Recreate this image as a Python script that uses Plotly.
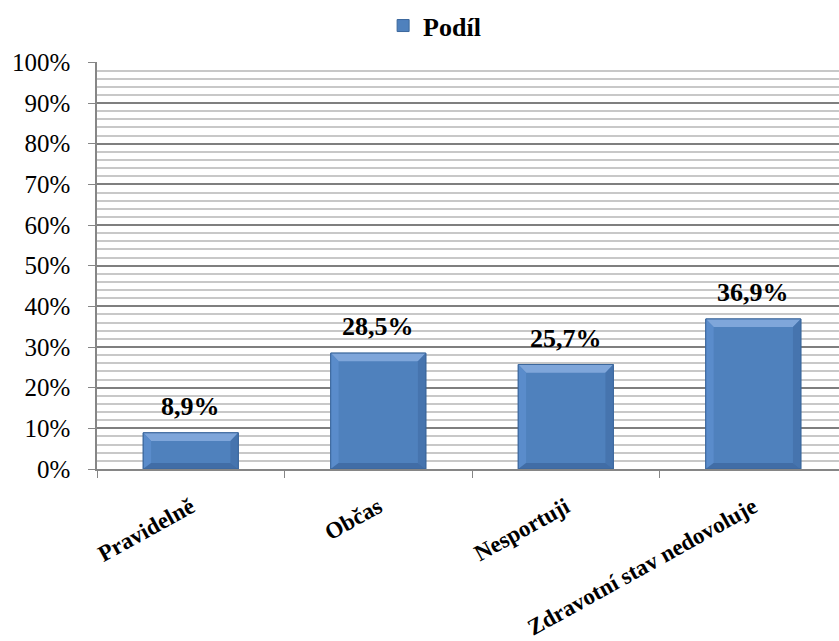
import plotly.graph_objects as go

categories = ["Pravidelně", "Občas", "Nesportuji", "Zdravotní stav nedovoluje"]
shares = [8.9, 28.5, 25.7, 36.9]
series_name = "Podíl"
y_ticks = list(range(0, 101, 10))
y_tick_labels = [f"{v}%" for v in y_ticks]

serif = "Liberation Serif, Times New Roman, serif"
bar_width = 0.507

fig = go.Figure()
fig.add_trace(go.Bar(
    x=categories,
    y=shares,
    name=f"<b>{series_name}</b>",
    width=bar_width,
    marker=dict(color="#4F81BD", line=dict(color="#3B679C", width=1)),
    showlegend=True,
))

# bevelled edges on each bar (sizes in axis units: ~8 px across, ~2% high)
bx, by = 0.042, 2.0
for i, v in enumerate(shares):
    l, r = i - bar_width / 2, i + bar_width / 2
    facets = [
        (f"M{l},{v} L{r},{v} L{r-bx},{v-by} L{l+bx},{v-by} Z", "#7FA6DA"),
        (f"M{l},{v} L{l+bx},{v-by} L{l+bx},{by*0.75} L{l},0 Z", "#5A8CCB"),
        (f"M{r},{v} L{r-bx},{v-by} L{r-bx},{by*0.75} L{r},0 Z", "#4674AE"),
        (f"M{l},0 L{r},0 L{r-bx},{by*0.75} L{l+bx},{by*0.75} Z", "#416DA6"),
    ]
    for path, col in facets:
        fig.add_shape(type="path", path=path, xref="x", yref="y",
                      fillcolor=col, line=dict(width=0), layer="above")
    fig.add_shape(type="rect", x0=l, x1=r, y0=0, y1=v, xref="x", yref="y",
                  fillcolor="rgba(0,0,0,0)", line=dict(color="#3B679C", width=1),
                  layer="above")

# value labels above each bar
for c, v in zip(categories, shares):
    fig.add_annotation(
        x=c, y=v, text=f"<b>{str(v).replace('.', ',')}%</b>",
        showarrow=False, yanchor="bottom", yshift=10,
        font=dict(family=serif, size=26, color="#000000"),
    )

fig.update_layout(
    width=839, height=641,
    margin=dict(l=97, r=0, t=60, b=172),
    paper_bgcolor="white", plot_bgcolor="white",
    font=dict(family=serif, color="#000000"),
    legend=dict(
        orientation="h", x=0.455, xanchor="center",
        yref="container", y=0.96, yanchor="middle",
        font=dict(family=serif, size=26, color="#000000"),
        itemwidth=30,
    ),
    xaxis=dict(
        type="category",
        range=[-0.5, 3.457],
        showgrid=False,
        showline=True, linecolor="#868686", linewidth=1.5,
        ticks="outside", tickson="boundaries", ticklen=7, tickcolor="#868686",
        tickangle=-29,
        ticklabelstandoff=14,
        tickfont=dict(family=serif, size=23, color="#000000"),
        tickprefix="<b>", ticksuffix="</b>",
    ),
    yaxis=dict(
        range=[0, 100],
        tickvals=y_ticks, ticktext=y_tick_labels,
        showgrid=True, gridcolor="#7F7F7F", gridwidth=1.5,
        showline=True, linecolor="#868686", linewidth=1.5,
        ticks="outside", ticklen=7, tickcolor="#868686",
        ticklabelstandoff=13,
        tickfont=dict(family=serif, size=25, color="#000000"),
        zeroline=False,
        minor=dict(dtick=2, showgrid=True, gridcolor="#C8C8C8", gridwidth=1.5),
    ),
)

fig.write_html("out.html")
